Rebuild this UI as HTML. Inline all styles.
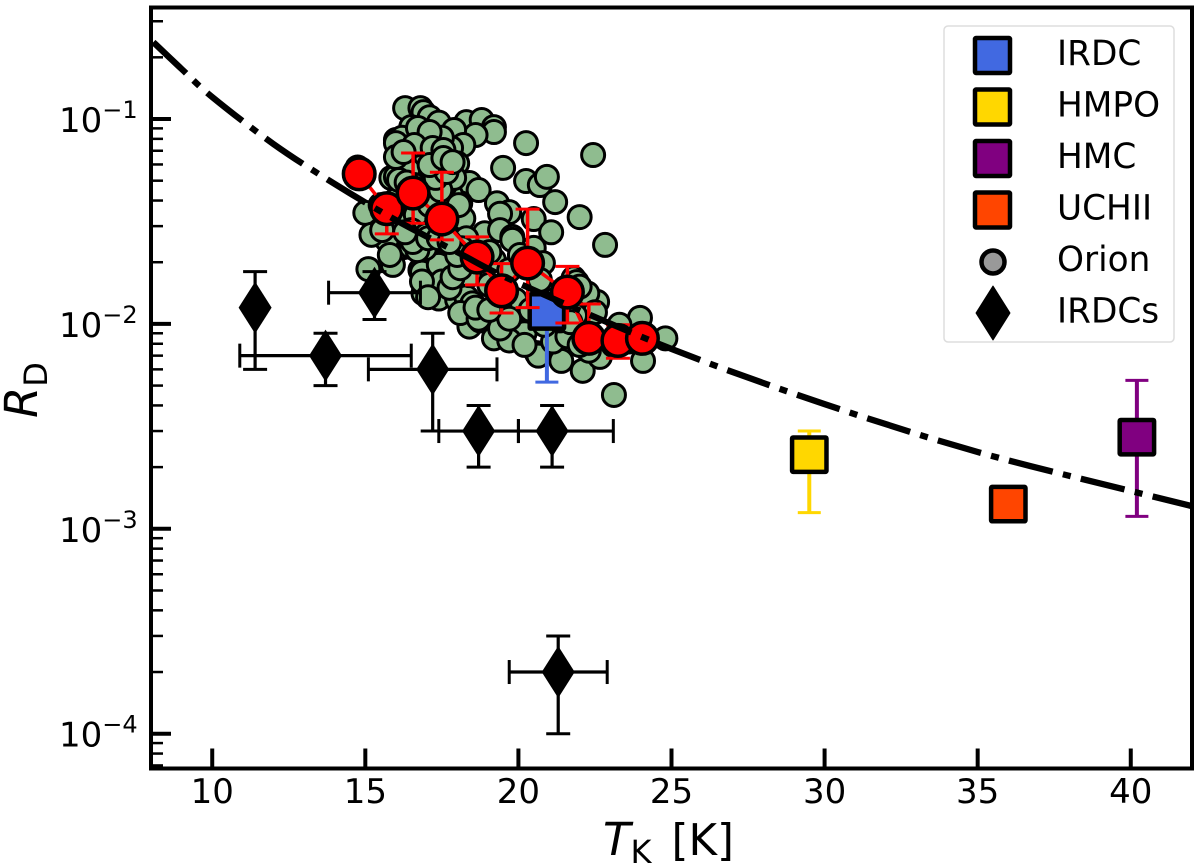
<!DOCTYPE html>
<html>
<head>
<meta charset="utf-8">
<title>RD vs TK</title>
<style>
html,body{margin:0;padding:0;background:#fff;width:1200px;height:868px;overflow:hidden}
svg{display:block}
text{font-family:"DejaVu Sans",sans-serif;fill:#000}
</style>
</head>
<body>
<svg id="chart" xmlns="http://www.w3.org/2000/svg" width="1200" height="868" viewBox="0 0 1200 868">
  <defs><clipPath id="plot-clip"><rect x="151" y="7.5" width="1041" height="761"/></clipPath></defs>
  <rect width="1200" height="868" fill="#fff"/>
  <g id="marks" clip-path="url(#plot-clip)"></g>
  <g id="axes"></g>
  <text x="603" y="855" font-size="45"><tspan font-style="italic">T</tspan><tspan font-size="32" dy="8">K</tspan><tspan dy="-8" dx="20" font-size="43.5">[K]</tspan></text>
  <text transform="translate(37,418) rotate(-90)" font-size="45"><tspan font-style="italic">R</tspan><tspan font-size="32" dy="10">D</tspan></text>
  <g>
    <rect x="944" y="26" width="230" height="316" rx="4" fill="#fff" fill-opacity="0.85" stroke="#ddd" stroke-width="1.5"/>
    <rect x="975" y="38" width="35" height="35" rx="1" fill="#4169e1" stroke="#000" stroke-width="4.5"/>
    <text x="1057" y="65" font-size="34.3">IRDC</text>
    <rect x="975" y="89.5" width="35" height="35" rx="1" fill="#ffd700" stroke="#000" stroke-width="4.5"/>
    <text x="1057" y="116.5" font-size="34.3">HMPO</text>
    <rect x="975" y="141" width="35" height="35" rx="1" fill="#800080" stroke="#000" stroke-width="4.5"/>
    <text x="1057" y="168" font-size="34.3">HMC</text>
    <rect x="975" y="192.5" width="35" height="35" rx="1" fill="#ff4500" stroke="#000" stroke-width="4.5"/>
    <text x="1057" y="219.5" font-size="34.3">UCHII</text>
    <circle cx="993" cy="262" r="11.5" fill="#999" stroke="#000" stroke-width="4.5"/>
    <text x="1057" y="271" font-size="34.3">Orion</text>
    <polygon points="993,286 1010,313 993,340 976,313" fill="#000" stroke="#000" stroke-width="1" stroke-linejoin="round"/>
    <text x="1057" y="322.5" font-size="34.3">IRDCs</text>
  </g>
</svg>
<script>
// ---- data ----
const xTickValues = [10, 15, 20, 25, 30, 35, 40];
const yTickExponents = [-1, -2, -3, -4];

const curveT = [8, 9, 10, 12, 14, 16, 18, 20, 25, 30, 35, 40, 42];
const curveR = [0.243, 0.1754, 0.128, 0.0755, 0.0482, 0.0321, 0.0224, 0.0158, 0.00755, 0.00406, 0.00237, 0.00153, 0.00129];

const orionT = [
16.3,16.8,16.9,17.1,17.4,18.3,18.8,19.2,19.2,18.6,17.9,18.2,17.8,17.5,16.8,16.5,16.0,16.2,16.4,17.0,
16.1,16.8,17.4,18.0,16.6,17.0,16.0,15.85,16.0,16.4,17.2,18.4,18.7,19.3,19.7,19.4,18.1,17.8,15.0,18.2,
18.9,19.4,19.8,22.44,20.25,19.5,20.25,20.7,20.93,21.2,22.0,22.83,20.5,21.07,19.8,20.5,20.8,21.8,23.12,15.1,
15.9,16.25,15.7,16.8,17.0,17.4,17.4,16.9,17.4,18.0,18.3,16.85,18.4,18.75,19.2,19.55,19.9,20.2,20.6,17.65,
18.0,18.5,19.05,16.5,17.4,18.0,18.75,21.4,20.65,22.1,22.66,24.07,23.97,24.8,22.57,21.9,22.25,22.5,21.13,21.6,
22.3,23.1,23.6,23.3,15.5,16.0,16.45,16.95,17.6,17.9,16.15,16.65,17.1,17.6,16.1,16.6,15.65,15.2,
15.8,16.5,17.0,17.6,18.25,18.6,19.2,18.4,19.05,19.7,20.05,19.9,20.4,20.85,21.35,21.85,19.7,20.2,19.4,18.1,
20.7,21.2,22.0,14.8,14.75,
15.55,17.4,17.5,16.85,17.05,17.75,17.85,18.1,18.3,18.15,
18.0,16.95,16.7,16.55,16.3,17.05,17.4,17.75,18.05,17.45,
17.3,17.65,19.05,18.7,19.4,19.7,18.6,19.05,22.0,21.7,
16.72,17.1,16.6,17.2,17.55,16.0,16.25,16.35,17.1,17.55,17.85
];
const orionR = [
.113,.113,.108,.102,.096,.0965,.0989,.0913,.0864,.0835,.0884,.0747,.0722,.081,.0855,.0913,.079,.081,.0727,.0763,
.0616,.069,.0645,.0607,.0607,.0645,.0763,.0516,.0522,.0564,.0533,.0487,.045,.0388,.0351,.0345,.0388,.0426,.0348,.0327,
.0277,.0287,.0266,.0667,.0763,.0577,.0498,.0476,.0522,.0393,.0332,.0243,.0325,.028,.0257,.0235,.0198,.0167,.0045,.0185,
.0194,.0237,.0257,.0183,.0222,.0197,.0161,.0141,.0133,.0131,.0135,.0178,.0097,.0104,.0085,.0096,.0093,.0090,.0072,.0158,
.0178,.0126,.0113,.0237,.0257,.0222,.0117,.0066,.0070,.0059,.0069,.0066,.0107,.0085,.0128,.0160,.0141,.0114,.0082,.0087,
.0074,.0079,.0082,.0099,.038,.0402,.0426,.045,.0476,.0516,.0304,.034,.038,.034,.0504,.0476,.0304,.0272,
.0217,.0287,.0272,.0272,.0257,.0205,.0205,.0173,.0155,.0183,.0217,.0131,.0117,.0099,.0104,.011,.0083,.0079,.0117,.0113,
.0164,.0131,.0079,.056,.058,
.0287,.0194,.0161,.0161,.0135,.015,.0169,.0187,.0262,.0234,
.0217,.0234,.0229,.0251,.028,.0262,.0262,.0251,.038,.045,
.0516,.0551,.0224,.0106,.0095,.0106,.012,.0117,.0152,.0102,
.0904,.0864,.0747,.0722,.0706,.0652,.069,.049,.0596,.0645,.0616
];

const binT = [14.8, 15.7, 16.56, 17.5, 18.65, 19.45, 20.3, 21.6, 22.3, 23.25, 24.05];
const binR = [.054, .0365, .0435, .0325, .0212, .0145, .0198, .0143, .0085, .0083, .0085];
const binLow = [.05, .0275, .031, .0257, .0155, .0113, .012, .0101, .0075, .0068, .0075];
const binHigh = [.058, .04, .0682, .055, .0266, .0197, .0363, .0191, .0125, .0099, .0095];

const stageNames = ['irdc', 'hmpo', 'hmc', 'uchii'];
const stageColors = ['#4169e1', '#ffd700', '#800080', '#ff4500'];
const stageT = [20.93, 29.5, 40.2, 36.0];
const stageR = [.0115, .0023, .0028, .00132];
const stageLow = [.0052, .0012, .00115, .00132];
const stageHigh = [.0135, .003, .0053, .00132];

const irdcsT = [11.4, 13.7, 15.3, 17.2, 18.7, 21.1, 21.3];
const irdcsR = [.012, .007, .0142, .006, .003, .003, .0002];
const irdcsRLow = [.006, .005, .0105, .003, .002, .002, .0001];
const irdcsRHigh = [.018, .009, .018, .009, .004, .004, .0003];
const irdcsTLow = [11.4, 10.9, 13.8, 15.1, 17.4, 20.0, 19.7];
const irdcsTHigh = [11.4, 16.5, 16.8, 19.3, 20.0, 23.1, 22.9];

// ---- axis functions ----
const NS = 'http://www.w3.org/2000/svg';
const X0 = 151, X1 = 1192, Y0 = 768.5, Y1 = 7.5;
const TMIN = 8, TMAX = 42;
const LOG_TOP = -1 + (119 - Y1) / 204.9;
const LOG_BOTTOM = -4 - (Y0 - 733.7) / 204.9;
function xScale(t) { return X0 + (t - TMIN) / (TMAX - TMIN) * (X1 - X0); }
function yScale(r) { return Y1 + (LOG_TOP - Math.log10(r)) / (LOG_TOP - LOG_BOTTOM) * (Y0 - Y1); }
function mk(parent, tag, attrs) {
  const e = document.createElementNS(NS, tag);
  for (const k in attrs) e.setAttribute(k, attrs[k]);
  parent.appendChild(e);
  return e;
}
const marks = document.getElementById('marks');
const axes = document.getElementById('axes');

function errorBar(parent, x1, y1, x2, y2, capHalf, color, width, name) {
  const line = mk(parent, 'line', {x1: x1, y1: y1, x2: x2, y2: y2, stroke: color, 'stroke-width': width});
  
  
  const vertical = x1 === x2;
  [[x1, y1], [x2, y2]].forEach(function (p) {
    const cap = mk(parent, 'line', vertical
      ? {x1: p[0] - capHalf, x2: p[0] + capHalf, y1: p[1], y2: p[1], stroke: color, 'stroke-width': 3}
      : {x1: p[0], x2: p[0], y1: p[1] - capHalf, y2: p[1] + capHalf, stroke: color, 'stroke-width': 3});
    
    
  });
}

// Orion scatter
orionT.forEach(function (t, i) {
  const c = mk(marks, 'circle', {cx: xScale(t), cy: yScale(orionR[i]), r: 11.5, fill: '#8fbc8f', stroke: '#000', 'stroke-width': 3});
  
  
});

// Evolutionary stage squares
stageT.forEach(function (t, i) {
  const x = xScale(t), y = yScale(stageR[i]);
  if (stageLow[i] !== stageHigh[i]) {
    errorBar(marks, x, yScale(stageLow[i]), x, yScale(stageHigh[i]), 11.5, stageColors[i], 4, 'stage-error-' + stageNames[i]);
  }
  const s = mk(marks, 'rect', {x: x - 17.2, y: y - 17.2, width: 34.4, height: 34.4, rx: 1, fill: stageColors[i], stroke: '#000', 'stroke-width': 4.5});
  
  
});

// IRDC diamonds
irdcsT.forEach(function (t, i) {
  const x = xScale(t), y = yScale(irdcsR[i]);
  errorBar(marks, x, yScale(irdcsRLow[i]), x, yScale(irdcsRHigh[i]), 12, '#000', 3.2, 'irdcs-y-error');
  if (irdcsTLow[i] !== irdcsTHigh[i]) {
    errorBar(marks, xScale(irdcsTLow[i]), y, xScale(irdcsTHigh[i]), y, 12, '#000', 3.2, 'irdcs-x-error');
  }
  const d = mk(marks, 'polygon', {points: x + ',' + (y - 26) + ' ' + (x + 16.5) + ',' + y + ' ' + x + ',' + (y + 26) + ' ' + (x - 16.5) + ',' + y, fill: '#000'});
  
  
});

// Binned red series
binT.forEach(function (t, i) {
  const x = xScale(t);
  errorBar(marks, x, yScale(binLow[i]), x, yScale(binHigh[i]), 12, '#ff0000', 3.5, 'bin-error');
});
const binLine = mk(marks, 'polyline', {points: binT.map(function (t, i) { return xScale(t) + ',' + yScale(binR[i]); }).join(' '), fill: 'none', stroke: '#ff0000', 'stroke-width': 3.5});


binT.forEach(function (t, i) {
  const c = mk(marks, 'circle', {cx: xScale(t), cy: yScale(binR[i]), r: 15.8, fill: '#ff0000', stroke: '#000', 'stroke-width': 3.5});
  
  
});

// Dash-dot model curve (Catmull-Rom through sampled values)
(function () {
  const pts = curveT.map(function (t, i) { return [xScale(t), yScale(curveR[i])]; });
  let d = 'M' + pts[0][0] + ' ' + pts[0][1];
  for (let i = 0; i < pts.length - 1; i++) {
    const p0 = pts[Math.max(0, i - 1)], p1 = pts[i], p2 = pts[i + 1], p3 = pts[Math.min(pts.length - 1, i + 2)];
    d += ' C' + (p1[0] + (p2[0] - p0[0]) / 6) + ' ' + (p1[1] + (p2[1] - p0[1]) / 6) + ' ' +
         (p2[0] - (p3[0] - p1[0]) / 6) + ' ' + (p2[1] - (p3[1] - p1[1]) / 6) + ' ' + p2[0] + ' ' + p2[1];
  }
  const curve = mk(marks, 'path', {d: d, fill: 'none', stroke: '#000', 'stroke-width': 6.3, 'stroke-dasharray': '45 10.5 8 10.5', 'stroke-dashoffset': -3.2});
  
  
})();

// Axes frame
const frame = mk(axes, 'rect', {x: X0, y: Y1, width: X1 - X0, height: Y0 - Y1, fill: 'none', stroke: '#000', 'stroke-width': 4});



// X ticks
xTickValues.forEach(function (v) {
  const x = xScale(v);
  const tick = mk(axes, 'line', {x1: x, x2: x, y1: Y0, y2: Y0 - 20, stroke: '#000', 'stroke-width': 4});
  
  
  const label = mk(axes, 'text', {x: x, y: 803, 'font-size': 34, 'text-anchor': 'middle'});
  
  
  label.textContent = String(v);
});

// Y ticks
yTickExponents.forEach(function (e) {
  const y = yScale(Math.pow(10, e));
  const tick = mk(axes, 'line', {x1: X0, x2: X0 + 20, y1: y, y2: y, stroke: '#000', 'stroke-width': 4});
  
  
  const label = mk(axes, 'text', {x: 59, y: y + 13, 'font-size': 34});
  
  
  label.appendChild(document.createTextNode('10'));
  const exp = mk(label, 'tspan', {dy: -14, 'font-size': 24});
  exp.textContent = '\u2212' + Math.abs(e);
});
[-5, -4, -3, -2, -1].forEach(function (e) {
  [2, 3, 4, 5, 6, 7, 8, 9].forEach(function (m) {
    const r = m * Math.pow(10, e);
    const y = yScale(r);
    if (y < Y1 + 1 || y > Y0 + 1) return;
    const minor = mk(axes, 'line', {x1: X0, x2: X0 + 12, y1: y, y2: y, stroke: '#000', 'stroke-width': 2.5});
    
    
  });
});
</script>
</body>
</html>
